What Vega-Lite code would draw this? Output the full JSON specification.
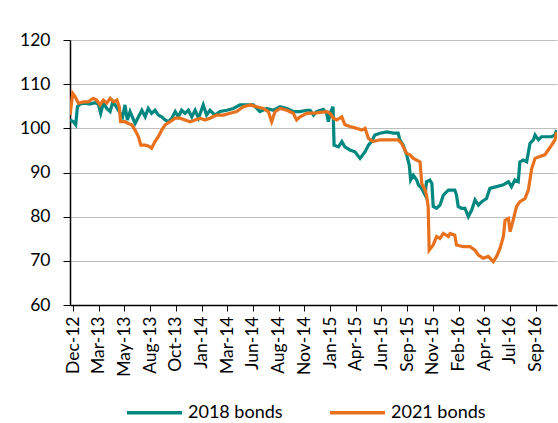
{
  "$schema": "https://vega.github.io/schema/vega-lite/v6.json",
  "width": 487,
  "height": 265,
  "autosize": {"type": "none"},
  "padding": {"left": 70, "top": 40, "right": 1, "bottom": 118},
  "config": {"view": {"stroke": null}, "font": "Lato"},
  "data": {
    "values": [
      {"d":"2012-12-13","s":"2018 bonds","v":101.9},{"d":"2012-12-23","s":"2018 bonds","v":101.5},{"d":"2012-12-30","s":"2018 bonds","v":100.8},{"d":"2013-01-04","s":"2018 bonds","v":104.9},{"d":"2013-01-12","s":"2018 bonds","v":105.5},{"d":"2013-01-27","s":"2018 bonds","v":105.7},{"d":"2013-02-10","s":"2018 bonds","v":105.5},{"d":"2013-02-25","s":"2018 bonds","v":105.8},{"d":"2013-03-07","s":"2018 bonds","v":105.5},{"d":"2013-03-14","s":"2018 bonds","v":103.4},{"d":"2013-03-22","s":"2018 bonds","v":105.7},{"d":"2013-04-01","s":"2018 bonds","v":104.5},{"d":"2013-04-11","s":"2018 bonds","v":103.8},{"d":"2013-04-19","s":"2018 bonds","v":106.0},{"d":"2013-04-29","s":"2018 bonds","v":104.9},{"d":"2013-05-08","s":"2018 bonds","v":103.8},{"d":"2013-05-18","s":"2018 bonds","v":102.6},{"d":"2013-05-25","s":"2018 bonds","v":105.3},{"d":"2013-06-01","s":"2018 bonds","v":101.9},{"d":"2013-06-09","s":"2018 bonds","v":103.8},{"d":"2013-06-24","s":"2018 bonds","v":101.1},{"d":"2013-07-04","s":"2018 bonds","v":102.6},{"d":"2013-07-14","s":"2018 bonds","v":104.1},{"d":"2013-07-24","s":"2018 bonds","v":102.6},{"d":"2013-08-02","s":"2018 bonds","v":104.5},{"d":"2013-08-12","s":"2018 bonds","v":103.4},{"d":"2013-08-22","s":"2018 bonds","v":104.1},{"d":"2013-09-01","s":"2018 bonds","v":103.0},{"d":"2013-09-11","s":"2018 bonds","v":102.6},{"d":"2013-09-21","s":"2018 bonds","v":101.9},{"d":"2013-10-01","s":"2018 bonds","v":101.5},{"d":"2013-10-11","s":"2018 bonds","v":102.3},{"d":"2013-10-21","s":"2018 bonds","v":103.8},{"d":"2013-10-30","s":"2018 bonds","v":102.6},{"d":"2013-11-09","s":"2018 bonds","v":104.1},{"d":"2013-11-19","s":"2018 bonds","v":103.4},{"d":"2013-11-29","s":"2018 bonds","v":104.1},{"d":"2013-12-09","s":"2018 bonds","v":102.6},{"d":"2013-12-19","s":"2018 bonds","v":104.1},{"d":"2013-12-29","s":"2018 bonds","v":102.3},{"d":"2014-01-12","s":"2018 bonds","v":105.3},{"d":"2014-01-22","s":"2018 bonds","v":103.0},{"d":"2014-02-01","s":"2018 bonds","v":104.1},{"d":"2014-02-16","s":"2018 bonds","v":103.0},{"d":"2014-03-03","s":"2018 bonds","v":103.8},{"d":"2014-03-23","s":"2018 bonds","v":104.1},{"d":"2014-04-11","s":"2018 bonds","v":104.5},{"d":"2014-05-01","s":"2018 bonds","v":105.3},{"d":"2014-05-21","s":"2018 bonds","v":105.3},{"d":"2014-06-10","s":"2018 bonds","v":105.3},{"d":"2014-06-29","s":"2018 bonds","v":103.8},{"d":"2014-07-19","s":"2018 bonds","v":104.5},{"d":"2014-08-08","s":"2018 bonds","v":104.1},{"d":"2014-08-28","s":"2018 bonds","v":104.9},{"d":"2014-09-17","s":"2018 bonds","v":104.5},{"d":"2014-10-06","s":"2018 bonds","v":103.8},{"d":"2014-10-26","s":"2018 bonds","v":103.8},{"d":"2014-11-15","s":"2018 bonds","v":104.1},{"d":"2014-11-25","s":"2018 bonds","v":104.1},{"d":"2014-12-05","s":"2018 bonds","v":103.0},{"d":"2014-12-14","s":"2018 bonds","v":103.8},{"d":"2015-01-03","s":"2018 bonds","v":104.3},{"d":"2015-01-13","s":"2018 bonds","v":103.4},{"d":"2015-01-18","s":"2018 bonds","v":101.5},{"d":"2015-01-25","s":"2018 bonds","v":103.8},{"d":"2015-02-01","s":"2018 bonds","v":104.9},{"d":"2015-02-04","s":"2018 bonds","v":96.2},{"d":"2015-02-17","s":"2018 bonds","v":95.8},{"d":"2015-02-27","s":"2018 bonds","v":97.0},{"d":"2015-03-08","s":"2018 bonds","v":95.8},{"d":"2015-03-23","s":"2018 bonds","v":95.1},{"d":"2015-04-07","s":"2018 bonds","v":94.7},{"d":"2015-04-22","s":"2018 bonds","v":93.2},{"d":"2015-05-07","s":"2018 bonds","v":94.7},{"d":"2015-05-17","s":"2018 bonds","v":96.2},{"d":"2015-05-26","s":"2018 bonds","v":97.0},{"d":"2015-06-05","s":"2018 bonds","v":98.5},{"d":"2015-06-20","s":"2018 bonds","v":98.9},{"d":"2015-07-10","s":"2018 bonds","v":99.2},{"d":"2015-07-30","s":"2018 bonds","v":98.9},{"d":"2015-08-13","s":"2018 bonds","v":98.9},{"d":"2015-08-18","s":"2018 bonds","v":97.4},{"d":"2015-08-28","s":"2018 bonds","v":96.2},{"d":"2015-09-07","s":"2018 bonds","v":94.0},{"d":"2015-09-15","s":"2018 bonds","v":91.7},{"d":"2015-09-19","s":"2018 bonds","v":88.3},{"d":"2015-09-27","s":"2018 bonds","v":89.4},{"d":"2015-10-07","s":"2018 bonds","v":88.3},{"d":"2015-10-12","s":"2018 bonds","v":87.2},{"d":"2015-10-22","s":"2018 bonds","v":86.4},{"d":"2015-11-01","s":"2018 bonds","v":84.9},{"d":"2015-11-05","s":"2018 bonds","v":87.9},{"d":"2015-11-15","s":"2018 bonds","v":88.3},{"d":"2015-11-21","s":"2018 bonds","v":87.5},{"d":"2015-11-25","s":"2018 bonds","v":82.3},{"d":"2015-12-05","s":"2018 bonds","v":81.9},{"d":"2015-12-15","s":"2018 bonds","v":82.6},{"d":"2015-12-25","s":"2018 bonds","v":84.9},{"d":"2016-01-09","s":"2018 bonds","v":86.0},{"d":"2016-01-28","s":"2018 bonds","v":86.0},{"d":"2016-02-02","s":"2018 bonds","v":84.9},{"d":"2016-02-07","s":"2018 bonds","v":82.3},{"d":"2016-02-17","s":"2018 bonds","v":81.9},{"d":"2016-02-27","s":"2018 bonds","v":81.9},{"d":"2016-03-08","s":"2018 bonds","v":80.0},{"d":"2016-03-18","s":"2018 bonds","v":81.5},{"d":"2016-03-28","s":"2018 bonds","v":83.8},{"d":"2016-04-07","s":"2018 bonds","v":82.6},{"d":"2016-04-17","s":"2018 bonds","v":83.4},{"d":"2016-05-01","s":"2018 bonds","v":84.1},{"d":"2016-05-11","s":"2018 bonds","v":86.4},{"d":"2016-05-31","s":"2018 bonds","v":86.8},{"d":"2016-06-20","s":"2018 bonds","v":87.2},{"d":"2016-07-05","s":"2018 bonds","v":87.9},{"d":"2016-07-14","s":"2018 bonds","v":86.8},{"d":"2016-07-24","s":"2018 bonds","v":88.3},{"d":"2016-08-03","s":"2018 bonds","v":87.9},{"d":"2016-08-08","s":"2018 bonds","v":92.4},{"d":"2016-08-18","s":"2018 bonds","v":92.8},{"d":"2016-08-28","s":"2018 bonds","v":92.4},{"d":"2016-09-07","s":"2018 bonds","v":96.6},{"d":"2016-09-17","s":"2018 bonds","v":97.4},{"d":"2016-09-22","s":"2018 bonds","v":98.5},{"d":"2016-10-02","s":"2018 bonds","v":97.4},{"d":"2016-10-11","s":"2018 bonds","v":98.1},{"d":"2016-10-26","s":"2018 bonds","v":98.1},{"d":"2016-11-10","s":"2018 bonds","v":98.1},{"d":"2016-11-20","s":"2018 bonds","v":98.5},{"d":"2016-11-25","s":"2018 bonds","v":99.6},
      {"d":"2012-12-13","s":"2021 bonds","v":103.0},{"d":"2012-12-21","s":"2021 bonds","v":107.9},{"d":"2012-12-28","s":"2021 bonds","v":107.2},{"d":"2013-01-07","s":"2021 bonds","v":105.7},{"d":"2013-01-22","s":"2021 bonds","v":106.0},{"d":"2013-02-05","s":"2021 bonds","v":106.0},{"d":"2013-02-20","s":"2021 bonds","v":106.8},{"d":"2013-03-02","s":"2021 bonds","v":106.4},{"d":"2013-03-12","s":"2021 bonds","v":105.3},{"d":"2013-03-22","s":"2021 bonds","v":106.4},{"d":"2013-04-01","s":"2021 bonds","v":105.7},{"d":"2013-04-11","s":"2021 bonds","v":106.8},{"d":"2013-04-21","s":"2021 bonds","v":106.0},{"d":"2013-05-01","s":"2021 bonds","v":106.4},{"d":"2013-05-08","s":"2021 bonds","v":104.9},{"d":"2013-05-12","s":"2021 bonds","v":101.5},{"d":"2013-05-25","s":"2021 bonds","v":101.5},{"d":"2013-06-04","s":"2021 bonds","v":101.1},{"d":"2013-06-14","s":"2021 bonds","v":100.8},{"d":"2013-06-24","s":"2021 bonds","v":99.6},{"d":"2013-07-04","s":"2021 bonds","v":98.1},{"d":"2013-07-11","s":"2021 bonds","v":96.2},{"d":"2013-07-24","s":"2021 bonds","v":96.2},{"d":"2013-08-02","s":"2021 bonds","v":96.0},{"d":"2013-08-12","s":"2021 bonds","v":95.5},{"d":"2013-08-22","s":"2021 bonds","v":97.0},{"d":"2013-09-01","s":"2021 bonds","v":98.1},{"d":"2013-09-11","s":"2021 bonds","v":99.6},{"d":"2013-09-21","s":"2021 bonds","v":100.8},{"d":"2013-10-06","s":"2021 bonds","v":101.5},{"d":"2013-10-21","s":"2021 bonds","v":102.3},{"d":"2013-11-04","s":"2021 bonds","v":102.3},{"d":"2013-11-19","s":"2021 bonds","v":101.9},{"d":"2013-12-04","s":"2021 bonds","v":101.5},{"d":"2013-12-19","s":"2021 bonds","v":101.9},{"d":"2014-01-03","s":"2021 bonds","v":102.3},{"d":"2014-01-17","s":"2021 bonds","v":101.9},{"d":"2014-02-01","s":"2021 bonds","v":102.3},{"d":"2014-02-21","s":"2021 bonds","v":103.0},{"d":"2014-03-13","s":"2021 bonds","v":103.0},{"d":"2014-04-01","s":"2021 bonds","v":103.4},{"d":"2014-04-21","s":"2021 bonds","v":103.8},{"d":"2014-05-11","s":"2021 bonds","v":104.9},{"d":"2014-05-31","s":"2021 bonds","v":105.3},{"d":"2014-06-20","s":"2021 bonds","v":104.9},{"d":"2014-07-09","s":"2021 bonds","v":104.5},{"d":"2014-07-24","s":"2021 bonds","v":103.8},{"d":"2014-08-03","s":"2021 bonds","v":101.5},{"d":"2014-08-13","s":"2021 bonds","v":103.8},{"d":"2014-08-28","s":"2021 bonds","v":104.5},{"d":"2014-09-17","s":"2021 bonds","v":104.1},{"d":"2014-10-06","s":"2021 bonds","v":103.4},{"d":"2014-10-16","s":"2021 bonds","v":101.9},{"d":"2014-10-26","s":"2021 bonds","v":102.6},{"d":"2014-11-15","s":"2021 bonds","v":103.4},{"d":"2014-12-14","s":"2021 bonds","v":103.5},{"d":"2015-01-13","s":"2021 bonds","v":103.8},{"d":"2015-01-23","s":"2021 bonds","v":103.4},{"d":"2015-02-02","s":"2021 bonds","v":102.3},{"d":"2015-02-12","s":"2021 bonds","v":101.9},{"d":"2015-02-27","s":"2021 bonds","v":102.6},{"d":"2015-03-08","s":"2021 bonds","v":100.8},{"d":"2015-03-23","s":"2021 bonds","v":100.4},{"d":"2015-04-12","s":"2021 bonds","v":100.0},{"d":"2015-04-27","s":"2021 bonds","v":99.6},{"d":"2015-05-07","s":"2021 bonds","v":100.0},{"d":"2015-05-17","s":"2021 bonds","v":97.7},{"d":"2015-05-31","s":"2021 bonds","v":97.0},{"d":"2015-06-20","s":"2021 bonds","v":97.4},{"d":"2015-07-10","s":"2021 bonds","v":97.4},{"d":"2015-07-30","s":"2021 bonds","v":97.4},{"d":"2015-08-13","s":"2021 bonds","v":97.4},{"d":"2015-08-23","s":"2021 bonds","v":96.6},{"d":"2015-09-02","s":"2021 bonds","v":95.1},{"d":"2015-09-07","s":"2021 bonds","v":94.3},{"d":"2015-09-17","s":"2021 bonds","v":94.0},{"d":"2015-09-27","s":"2021 bonds","v":93.2},{"d":"2015-10-07","s":"2021 bonds","v":92.8},{"d":"2015-10-17","s":"2021 bonds","v":92.4},{"d":"2015-10-22","s":"2021 bonds","v":87.5},{"d":"2015-11-01","s":"2021 bonds","v":86.0},{"d":"2015-11-05","s":"2021 bonds","v":84.9},{"d":"2015-11-10","s":"2021 bonds","v":82.3},{"d":"2015-11-13","s":"2021 bonds","v":72.4},{"d":"2015-11-25","s":"2021 bonds","v":73.6},{"d":"2015-12-05","s":"2021 bonds","v":75.5},{"d":"2015-12-15","s":"2021 bonds","v":75.1},{"d":"2015-12-25","s":"2021 bonds","v":76.2},{"d":"2016-01-09","s":"2021 bonds","v":75.5},{"d":"2016-01-14","s":"2021 bonds","v":76.2},{"d":"2016-01-28","s":"2021 bonds","v":75.8},{"d":"2016-02-02","s":"2021 bonds","v":73.6},{"d":"2016-02-22","s":"2021 bonds","v":73.2},{"d":"2016-03-13","s":"2021 bonds","v":73.2},{"d":"2016-03-28","s":"2021 bonds","v":72.4},{"d":"2016-04-07","s":"2021 bonds","v":71.3},{"d":"2016-04-21","s":"2021 bonds","v":70.6},{"d":"2016-05-06","s":"2021 bonds","v":71.0},{"d":"2016-05-21","s":"2021 bonds","v":69.8},{"d":"2016-05-31","s":"2021 bonds","v":71.0},{"d":"2016-06-10","s":"2021 bonds","v":72.8},{"d":"2016-06-20","s":"2021 bonds","v":75.5},{"d":"2016-06-25","s":"2021 bonds","v":79.2},{"d":"2016-07-05","s":"2021 bonds","v":79.6},{"d":"2016-07-10","s":"2021 bonds","v":76.6},{"d":"2016-07-19","s":"2021 bonds","v":79.2},{"d":"2016-07-29","s":"2021 bonds","v":82.3},{"d":"2016-08-08","s":"2021 bonds","v":83.4},{"d":"2016-08-23","s":"2021 bonds","v":84.1},{"d":"2016-09-02","s":"2021 bonds","v":86.0},{"d":"2016-09-12","s":"2021 bonds","v":90.9},{"d":"2016-09-22","s":"2021 bonds","v":93.2},{"d":"2016-10-06","s":"2021 bonds","v":93.6},{"d":"2016-10-21","s":"2021 bonds","v":94.0},{"d":"2016-10-31","s":"2021 bonds","v":95.1},{"d":"2016-11-10","s":"2021 bonds","v":96.2},{"d":"2016-11-20","s":"2021 bonds","v":97.4},{"d":"2016-11-25","s":"2021 bonds","v":99.2}
    ]
  },
  "mark": {"type": "line", "strokeWidth": 3.2, "clip": true},
  "encoding": {
    "x": {
      "field": "d",
      "type": "temporal",
      "scale": {"domain": [{"year": 2012, "month": 12, "date": 13}, {"year": 2016, "month": 11, "date": 26}]},
      "axis": {
        "title": null,
        "grid": false,
        "values": [
          {"year": 2012, "month": 12, "date": 22}, {"year": 2013, "month": 3, "date": 8}, {"year": 2013, "month": 5, "date": 23},
          {"year": 2013, "month": 8, "date": 8}, {"year": 2013, "month": 10, "date": 23}, {"year": 2014, "month": 1, "date": 7},
          {"year": 2014, "month": 3, "date": 24}, {"year": 2014, "month": 6, "date": 8}, {"year": 2014, "month": 8, "date": 24},
          {"year": 2014, "month": 11, "date": 8}, {"year": 2015, "month": 1, "date": 23}, {"year": 2015, "month": 4, "date": 9},
          {"year": 2015, "month": 6, "date": 24}, {"year": 2015, "month": 9, "date": 9}, {"year": 2015, "month": 11, "date": 24},
          {"year": 2016, "month": 2, "date": 8}, {"year": 2016, "month": 4, "date": 24}, {"year": 2016, "month": 7, "date": 9},
          {"year": 2016, "month": 9, "date": 24}
        ],
        "format": "%b-%y",
        "labelAngle": 270,
        "labelFontSize": 17.5,
        "labelColor": "#000000",
        "labelPadding": 5,
        "labelFlush": false,
        "labelOverlap": false,
        "tickSize": 6,
        "tickColor": "#000000",
        "domainColor": "#000000",
        "domainWidth": 1.5
      }
    },
    "y": {
      "field": "v",
      "type": "quantitative",
      "scale": {"domain": [60, 120], "nice": false, "zero": false},
      "axis": {
        "title": null,
        "values": [60, 70, 80, 90, 100, 110, 120],
        "labelFontSize": 17.5,
        "labelColor": "#000000",
        "labelPadding": 13,
        "tickSize": 7,
        "tickColor": "#000000",
        "domainColor": "#000000",
        "domainWidth": 1.5,
        "grid": true,
        "gridColor": "#BFBFBF",
        "gridWidth": 1.2
      }
    },
    "color": {
      "field": "s",
      "type": "nominal",
      "scale": {"domain": ["2018 bonds", "2021 bonds"], "range": ["#00877F", "#E8711E"]},
      "legend": {
        "title": null,
        "orient": "none",
        "legendX": 55,
        "legendY": 343,
        "direction": "horizontal",
        "padding": 0,
        "symbolType": "stroke",
        "symbolSize": 3025,
        "symbolStrokeWidth": 3.5,
        "labelFontSize": 18,
        "labelColor": "#000000",
        "labelOffset": 4,
        "columnPadding": 40
      }
    }
  }
}
